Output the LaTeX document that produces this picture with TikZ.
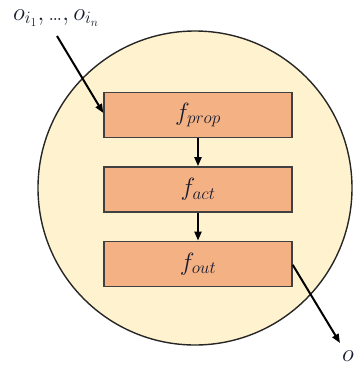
\documentclass[tikz,border=0pt]{standalone}
\usepackage{amsmath,amssymb}
\usepackage{xcolor}
\usetikzlibrary{arrows.meta}
\usetikzlibrary{positioning}
\usetikzlibrary{calc}

\definecolor{cellfill}{RGB}{255,242,206}
\definecolor{boxfill}{RGB}{244,177,131}
\definecolor{boxline}{RGB}{64,64,64}
\definecolor{labelcol}{RGB}{24,28,48}

\tikzset{
  block/.style={draw=boxline, line width=1.4pt, fill=boxfill,
    minimum width=188pt, minimum height=45pt, inner sep=0pt,
    font=\fontsize{26}{30}\selectfont, text=labelcol},
  arr/.style={line width=2pt, -{Triangle[length=9pt,width=7pt]}},
  lbl/.style={font=\fontsize{24}{28}\selectfont, text=labelcol, inner sep=0pt}
}

\begin{document}
\begin{tikzpicture}[x=1pt,y=-1pt]
    \useasboundingbox (0,0) rectangle (354,368);
    \coordinate (C) at (195,188);
    \draw[line width=1.4pt, draw=black!85, fill=cellfill] (C) circle (157pt);
    \node[block] (prop) at (198,115) {$f_{prop}$};
    \node[block, below=28pt of prop] (act) {$f_{act}$};
    \node[block, below=28pt of act] (out) {$f_{out}$};
    \draw[arr] (prop) -- (act);
    \draw[arr] (act) -- (out);
    \node[lbl] (inlabel) at (56,18) {$o_{i_1},\text{\textellipsis},o_{i_n}$};
    \coordinate (in) at (57,36);
    \draw[arr] (in) -- ($(prop.west)+(0,-2)$);
    \coordinate (res) at (340,343);
    \draw[arr] ($(out.east)+(0,1)$) -- (res);
    \node[lbl, anchor=west] (outlabel) at (342,356) {$o$};
  \end{tikzpicture}
\end{document}
